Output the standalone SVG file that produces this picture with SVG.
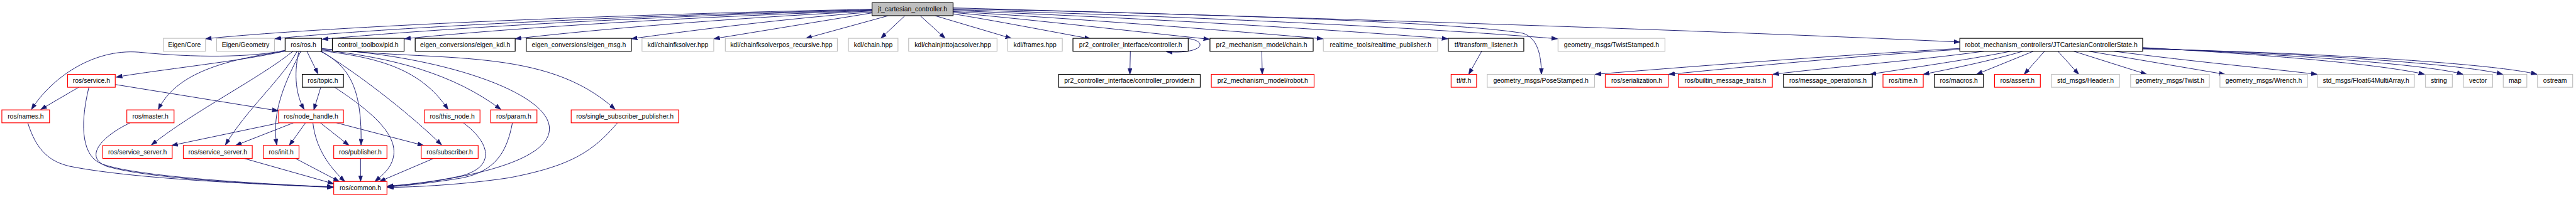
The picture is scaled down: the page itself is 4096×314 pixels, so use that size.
<svg xmlns="http://www.w3.org/2000/svg" width="4096" height="314" viewBox="0 0 4096 314">
<style>
.e{fill:none;stroke:#191970;stroke-width:1.3;marker-end:url(#arr)}
rect{fill:#ffffff;stroke-width:1.6}
.g rect{stroke:#bfbfbf}
.r rect{stroke:#ff0000}
.k rect{stroke:#000000}
.root rect{fill:#bfbfbf;stroke:#000000}
text{font-family:"Liberation Sans",Arial,sans-serif;font-size:14.2px;fill:#000000;text-anchor:middle}
</style>
<defs>
<marker id="arr" markerUnits="userSpaceOnUse" markerWidth="14" markerHeight="10" viewBox="0 0 14 10" refX="13" refY="5" orient="auto">
<path d="M0,0.5 L13,5 L0,9.5 z" fill="#191970" stroke="#191970"/>
</marker>
</defs>
<rect x="0" y="0" width="4096" height="314" style="fill:#ffffff;stroke:none"/>
<g transform="scale(0.736)">
<g id="edges">
<path class="e" d="M1884,20 C1300,32 700,58 444,84"/>
<path class="e" d="M1884,21 C1300,35 780,64 594,84"/>
<path class="e" d="M1884,22 C1300,38 880,68 696,85"/>
<path class="e" d="M1884,23 C1400,40 1050,66 874,84"/>
<path class="e" d="M1884,24 C1600,38 1300,62 1113,84"/>
<path class="e" d="M1884,26 C1700,40 1500,65 1364,84"/>
<path class="e" d="M1884,28 C1780,45 1640,68 1542,84"/>
<path class="e" d="M1919,34 L1741,83"/>
<path class="e" d="M1955,34 L1903,83"/>
<path class="e" d="M1988,34 L2042,83"/>
<path class="e" d="M2020,34 L2185,83"/>
<path class="e" d="M2059,30 C2150,45 2270,68 2356,84"/>
<path class="e" d="M2059,27 C2250,45 2450,68 2613,85"/>
<path class="e" d="M2059,25 C2350,42 2650,66 2858,84"/>
<path class="e" d="M2059,23 C2450,38 2850,62 3128,84"/>
<path class="e" d="M2059,21 C2550,35 3050,58 3365,84"/>
<path class="e" d="M2059,19 C2600,30 3150,48 3290,72 C3322,82 3330,120 3330,161"/>
<path class="e" d="M2059,17 C2800,38 3600,62 4234,91"/>
<path class="e" d="M2530,83 C2615,76 2615,119 2520,112"/>
<path class="e" d="M2442,111 L2441,161"/>
<path class="e" d="M2726,111 L2727,161"/>
<path class="e" d="M3201,111 L3173,161"/>
<path class="e" d="M616,110 C540,130 350,150 251,167"/>
<path class="e" d="M616,109 C540,125 420,125 300,113 C200,105 110,170 68,237"/>
<path class="e" d="M616,111 C480,130 380,160 342,237"/>
<path class="e" d="M633,111 C560,170 420,240 327,314"/>
<path class="e" d="M642,111 C610,170 530,240 487,314"/>
<path class="e" d="M650,111 C620,170 585,240 598,314"/>
<path class="e" d="M646,111 C636,150 636,200 657,237"/>
<path class="e" d="M663,111 L687,160"/>
<path class="e" d="M692,111 C760,145 782,200 780,314"/>
<path class="e" d="M694,111 C790,170 900,260 954,314"/>
<path class="e" d="M695,110 C820,125 910,150 968,237"/>
<path class="e" d="M695,108 C850,125 980,160 1082,237"/>
<path class="e" d="M695,105 C950,135 1180,100 1329,237"/>
<path class="e" d="M695,106 C950,120 1190,200 1187,280 C1185,360 950,395 837,404"/>
<path class="e" d="M170,189 L88,237"/>
<path class="e" d="M192,189 C170,280 180,340 220,355 C300,385 600,400 720,405"/>
<path class="e" d="M249,183 L601,240"/>
<path class="e" d="M60,266 C80,330 110,350 150,360 C300,390 600,400 720,406"/>
<path class="e" d="M281,266 C220,295 180,340 230,360 C330,390 600,400 720,405"/>
<path class="e" d="M604,266 L371,315"/>
<path class="e" d="M634,266 L509,315"/>
<path class="e" d="M660,266 L625,315"/>
<path class="e" d="M676,266 C682,320 710,360 745,393"/>
<path class="e" d="M692,266 L754,315"/>
<path class="e" d="M727,266 L915,315"/>
<path class="e" d="M693,189 L678,238"/>
<path class="e" d="M723,189 C800,240 860,290 850,340 C845,365 825,380 810,393"/>
<path class="e" d="M527,343 L721,398"/>
<path class="e" d="M638,343 L733,393"/>
<path class="e" d="M779,343 L779,393"/>
<path class="e" d="M937,343 L820,393"/>
<path class="e" d="M1001,266 C1060,310 1070,360 1000,380 C950,392 880,400 837,403"/>
<path class="e" d="M1107,266 C1095,330 1070,370 1000,385 C940,395 880,402 837,405"/>
<path class="e" d="M1334,266 C1280,330 1230,360 1100,385 C1000,400 900,405 837,406"/>
<path class="e" d="M4234,105 C4000,118 3700,140 3446,161"/>
<path class="e" d="M4234,107 C4000,122 3800,142 3605,161"/>
<path class="e" d="M4286,111 C4150,130 3950,146 3830,161"/>
<path class="e" d="M4344,111 C4250,130 4120,148 4040,161"/>
<path class="e" d="M4370,111 C4300,132 4220,148 4155,161"/>
<path class="e" d="M4393,111 L4270,161"/>
<path class="e" d="M4417,111 L4373,161"/>
<path class="e" d="M4446,111 L4491,161"/>
<path class="e" d="M4480,111 L4638,161"/>
<path class="e" d="M4513,111 L4807,161"/>
<path class="e" d="M4567,111 C4750,135 4900,148 5006,161"/>
<path class="e" d="M4629,103 C4900,118 5150,140 5238,161"/>
<path class="e" d="M4629,104 C4950,118 5250,140 5321,161"/>
<path class="e" d="M4629,105 C5000,116 5330,140 5407,161"/>
<path class="e" d="M4629,106 C5050,115 5400,140 5481,161"/>
</g>
<g id="n_jt" class="root"><rect x="1884" y="6" width="175" height="28"/><text x="1971.5" y="25">jt_cartesian_controller.h</text></g>
<g id="n_eigen_core" class="g"><rect x="353" y="83" width="91" height="28"/><text x="398.5" y="102">Eigen/Core</text></g>
<g id="n_eigen_geometry" class="g"><rect x="468" y="83" width="125" height="28"/><text x="530.5" y="102">Eigen/Geometry</text></g>
<g id="n_ros_ros" class="k"><rect x="616" y="83" width="79" height="28"/><text x="655.5" y="102">ros/ros.h</text></g>
<g id="n_pid" class="k"><rect x="718" y="83" width="155" height="28"/><text x="795.5" y="102">control_toolbox/pid.h</text></g>
<g id="n_eigen_kdl" class="k"><rect x="897" y="83" width="216" height="28"/><text x="1005" y="102">eigen_conversions/eigen_kdl.h</text></g>
<g id="n_eigen_msg" class="k"><rect x="1137" y="83" width="227" height="28"/><text x="1250.5" y="102">eigen_conversions/eigen_msg.h</text></g>
<g id="n_chainfksolver" class="g"><rect x="1387" y="83" width="155" height="28"/><text x="1464.5" y="102">kdl/chainfksolver.hpp</text></g>
<g id="n_chainfksolverpos" class="g"><rect x="1567" y="83" width="242" height="28"/><text x="1688" y="102">kdl/chainfksolverpos_recursive.hpp</text></g>
<g id="n_chain_hpp" class="g"><rect x="1833" y="83" width="107" height="28"/><text x="1886.5" y="102">kdl/chain.hpp</text></g>
<g id="n_jnttojac" class="g"><rect x="1963" y="83" width="191" height="28"/><text x="2058.5" y="102">kdl/chainjnttojacsolver.hpp</text></g>
<g id="n_frames" class="g"><rect x="2177" y="83" width="118" height="28"/><text x="2236" y="102">kdl/frames.hpp</text></g>
<g id="n_controller" class="k"><rect x="2318" y="83" width="249" height="28"/><text x="2442.5" y="102">pr2_controller_interface/controller.h</text></g>
<g id="n_pr2_chain" class="k"><rect x="2614" y="83" width="223" height="28"/><text x="2725.5" y="102">pr2_mechanism_model/chain.h</text></g>
<g id="n_realtime" class="g"><rect x="2859" y="83" width="247" height="28"/><text x="2982.5" y="102">realtime_tools/realtime_publisher.h</text></g>
<g id="n_tf_listener" class="k"><rect x="3129" y="83" width="163" height="28"/><text x="3210.5" y="102">tf/transform_listener.h</text></g>
<g id="n_twiststamped" class="g"><rect x="3366" y="83" width="231" height="28"/><text x="3481.5" y="102">geometry_msgs/TwistStamped.h</text></g>
<g id="n_jtstate" class="k"><rect x="4234" y="83" width="395" height="28"/><text x="4431.5" y="102">robot_mechanism_controllers/JTCartesianControllerState.h</text></g>
<g id="n_service" class="r"><rect x="146" y="161" width="103" height="28"/><text x="197.5" y="180">ros/service.h</text></g>
<g id="n_topic" class="k"><rect x="653" y="161" width="89" height="28"/><text x="697.5" y="180">ros/topic.h</text></g>
<g id="n_provider" class="k"><rect x="2287" y="161" width="306" height="28"/><text x="2440" y="180">pr2_controller_interface/controller_provider.h</text></g>
<g id="n_robot" class="r"><rect x="2617" y="161" width="222" height="28"/><text x="2728" y="180">pr2_mechanism_model/robot.h</text></g>
<g id="n_tf" class="r"><rect x="3135" y="161" width="55" height="28"/><text x="3162.5" y="180">tf/tf.h</text></g>
<g id="n_posestamped" class="g"><rect x="3213" y="161" width="232" height="28"/><text x="3329" y="180">geometry_msgs/PoseStamped.h</text></g>
<g id="n_serialization" class="r"><rect x="3468" y="161" width="136" height="28"/><text x="3536" y="180">ros/serialization.h</text></g>
<g id="n_builtin" class="r"><rect x="3626" y="161" width="203" height="28"/><text x="3727.5" y="180">ros/builtin_message_traits.h</text></g>
<g id="n_msgops" class="k"><rect x="3853" y="161" width="192" height="28"/><text x="3949" y="180">ros/message_operations.h</text></g>
<g id="n_time" class="r"><rect x="4068" y="161" width="87" height="28"/><text x="4111.5" y="180">ros/time.h</text></g>
<g id="n_macros" class="k"><rect x="4179" y="161" width="106" height="28"/><text x="4232" y="180">ros/macros.h</text></g>
<g id="n_assert" class="r"><rect x="4309" y="161" width="99" height="28"/><text x="4358.5" y="180">ros/assert.h</text></g>
<g id="n_header" class="g"><rect x="4432" y="161" width="147" height="28"/><text x="4505.5" y="180">std_msgs/Header.h</text></g>
<g id="n_twist" class="g"><rect x="4603" y="161" width="170" height="28"/><text x="4688" y="180">geometry_msgs/Twist.h</text></g>
<g id="n_wrench" class="g"><rect x="4796" y="161" width="189" height="28"/><text x="4890.5" y="180">geometry_msgs/Wrench.h</text></g>
<g id="n_float64" class="g"><rect x="5007" y="161" width="209" height="28"/><text x="5111.5" y="180">std_msgs/Float64MultiArray.h</text></g>
<g id="n_string" class="g"><rect x="5240" y="161" width="58" height="28"/><text x="5269" y="180">string</text></g>
<g id="n_vector" class="g"><rect x="5322" y="161" width="63" height="28"/><text x="5353.5" y="180">vector</text></g>
<g id="n_map" class="g"><rect x="5408" y="161" width="51" height="28"/><text x="5433.5" y="180">map</text></g>
<g id="n_ostream" class="g"><rect x="5482" y="161" width="76" height="28"/><text x="5520" y="180">ostream</text></g>
<g id="n_names" class="r"><rect x="4" y="238" width="103" height="28"/><text x="55.5" y="257">ros/names.h</text></g>
<g id="n_master" class="r"><rect x="274" y="238" width="102" height="28"/><text x="325" y="257">ros/master.h</text></g>
<g id="n_node_handle" class="r"><rect x="602" y="238" width="140" height="28"/><text x="672" y="257">ros/node_handle.h</text></g>
<g id="n_this_node" class="r"><rect x="917" y="238" width="120" height="28"/><text x="977" y="257">ros/this_node.h</text></g>
<g id="n_param" class="r"><rect x="1060" y="238" width="100" height="28"/><text x="1110" y="257">ros/param.h</text></g>
<g id="n_single_sub" class="r"><rect x="1234" y="238" width="232" height="28"/><text x="1350" y="257">ros/single_subscriber_publisher.h</text></g>
<g id="n_service_server_1" class="r"><rect x="222" y="315" width="150" height="28"/><text x="297" y="334">ros/service_server.h</text></g>
<g id="n_service_server_2" class="r"><rect x="396" y="315" width="149" height="28"/><text x="470.5" y="334">ros/service_server.h</text></g>
<g id="n_init" class="r"><rect x="569" y="315" width="77" height="28"/><text x="607.5" y="334">ros/init.h</text></g>
<g id="n_publisher" class="r"><rect x="721" y="315" width="115" height="28"/><text x="778.5" y="334">ros/publisher.h</text></g>
<g id="n_subscriber" class="r"><rect x="910" y="315" width="123" height="28"/><text x="971.5" y="334">ros/subscriber.h</text></g>
<g id="n_common" class="r"><rect x="721" y="393" width="115" height="28"/><text x="778.5" y="412">ros/common.h</text></g>
</g>
</svg>
